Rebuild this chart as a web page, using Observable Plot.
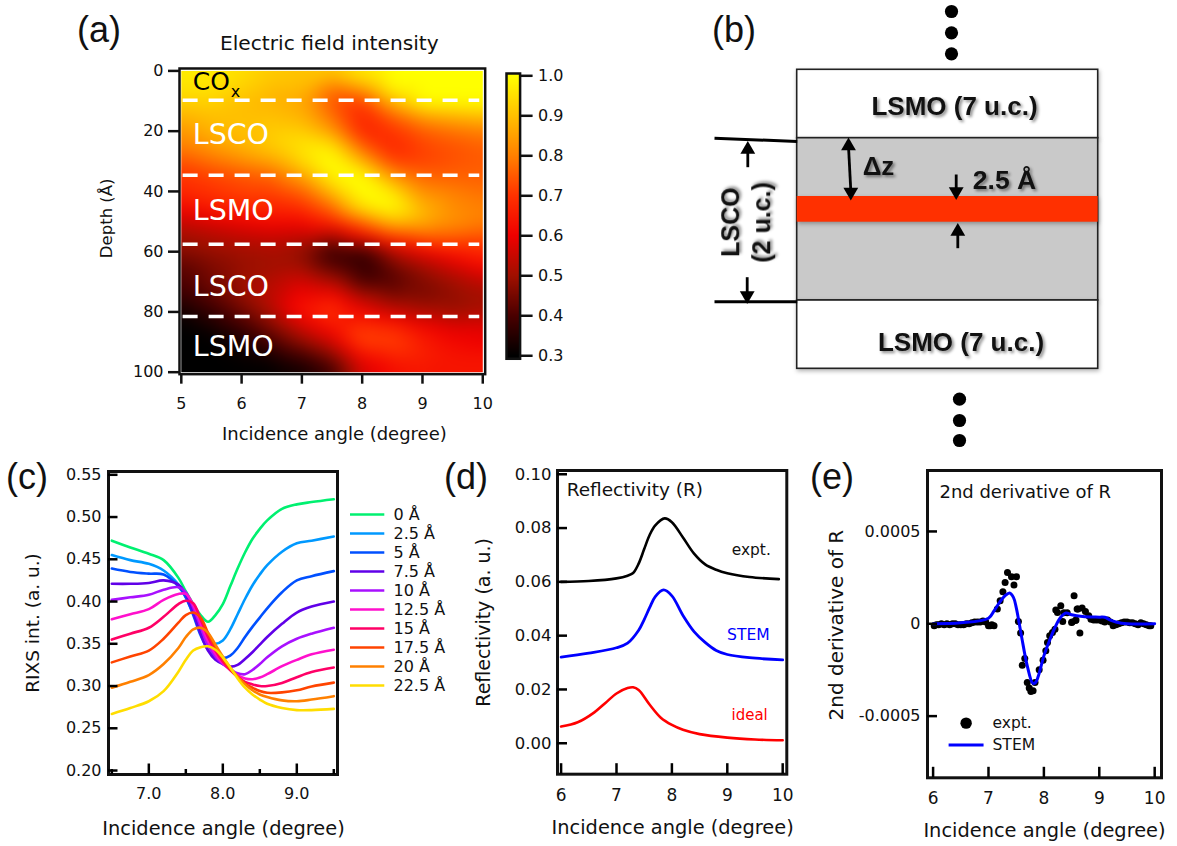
<!DOCTYPE html>
<html><head><meta charset="utf-8">
<script src="https://cdn.jsdelivr.net/npm/d3@7"></script>
<script src="https://cdn.jsdelivr.net/npm/@observablehq/plot@0.6"></script>
<style>
html,body{margin:0;padding:0;background:#fff;overflow:hidden}
#page{position:relative;width:1177px;height:846px;overflow:hidden;background:#fff;font-family:"DejaVu Sans",sans-serif}
.letter{position:absolute;font-family:"Liberation Sans",sans-serif;font-size:36px;line-height:40px;color:#111}
svg{position:absolute;overflow:visible}
.schem g[aria-label="text"] text{filter:drop-shadow(2px 2px 1.5px rgba(0,0,0,.45))}
.schem g[aria-label="rect"] rect{filter:drop-shadow(1px 2px 2px rgba(0,0,0,.3))}
</style></head><body><div id="page"></div>
<script>
// ---------- (a) electric field intensity ----------
const fieldAngles=[5,5.5,6,6.5,7,7.5,8,8.5,9,9.5,10];
const fieldDepths=[0,5,10,15,20,25,30,35,40,45,50,55,60,65,70,75,80,85,90,95,100];
const fieldRows=[
[.97,.97,.95,.92,.90,.92,.98,1,1,1,1],
[.96,.96,.93,.90,.90,.80,.88,1,1,1,1],
[.93,.93,.90,.88,.86,.74,.72,.90,1,1,1],
[.88,.90,.90,.90,.88,.78,.68,.76,.85,.88,.90],
[.83,.88,.90,.92,.92,.84,.68,.70,.75,.78,.80],
[.80,.84,.88,.92,.96,.96,.76,.68,.72,.74,.76],
[.74,.78,.82,.86,.94,1,.88,.72,.72,.74,.75],
[.70,.72,.74,.76,.85,.98,1,.84,.77,.76,.76],
[.68,.70,.72,.72,.76,.90,1,.96,.82,.80,.78],
[.62,.66,.68,.68,.70,.78,.96,1,.88,.82,.80],
[.55,.58,.60,.62,.62,.68,.78,.90,.88,.83,.80],
[.50,.52,.54,.55,.54,.50,.62,.72,.76,.76,.74],
[.47,.49,.50,.51,.48,.37,.37,.52,.60,.65,.68],
[.42,.46,.49,.50,.50,.42,.37,.44,.50,.56,.62],
[.40,.45,.50,.53,.57,.52,.40,.41,.46,.50,.54],
[.37,.42,.48,.54,.62,.64,.52,.46,.46,.48,.50],
[.32,.37,.44,.52,.64,.70,.62,.56,.52,.50,.52],
[.30,.33,.38,.46,.56,.64,.70,.68,.62,.58,.58],
[.30,.30,.34,.40,.48,.56,.72,.72,.66,.62,.60],
[.30,.30,.31,.33,.38,.46,.62,.66,.66,.64,.64],
[.30,.30,.30,.30,.32,.38,.56,.62,.64,.64,.64]];
const interfaceDepths=[9.7,34.6,57.5,81.5];
const layerLabels=["LSCO","LSMO","LSCO","LSMO"];
const layerLabelDepths=[21.1,46.6,71.8,91.6];
const colorStops=[.3,.4,.5,.6,.7,.8,.9,1];
const colorHex=["#000000","#4a0000","#a01000","#f00000","#ff3200","#ff8000","#ffc000","#ffff00"];
const fieldColor={type:"linear",domain:colorStops,range:colorHex,clamp:true};

// ---------- (c) RIXS ----------
const rixsAngles=[6.5,6.75,7,7.2,7.4,7.5,7.6,7.7,7.8,7.9,8,8.1,8.2,8.3,8.4,8.5,8.6,8.8,9,9.2,9.5];
const rixs0=[.472,.464,.4565,.449,.428,.412,.397,.384,.376,.384,.397,.418,.439,.458,.474,.486,.496,.5097,.515,.5177,.521];
const rixs25=[.455,.449,.4446,.4367,.42,.405,.386,.366,.352,.350,.354,.367,.385,.403,.419,.432,.443,.459,.469,.472,.477];
const rixs50=[.439,.435,.433,.432,.418,.405,.384,.360,.343,.335,.333,.336,.345,.358,.370,.381,.392,.411,.425,.430,.436];
const rixs75=[.421,.421,.422,.425,.420,.408,.387,.362,.342,.331,.326,.323,.325,.332,.340,.349,.358,.3736,.387,.394,.400];
const rixs100=[.402,.405,.408,.414,.417,.411,.393,.370,.348,.335,.326,.320,.315,.314,.319,.326,.334,.347,.356,.362,.369];
const rixs125=[.379,.385,.391,.402,.409,.409,.396,.374,.353,.338,.327,.319,.313,.309,.308,.310,.314,.3235,.331,.3375,.343];
const rixs150=[.355,.362,.369,.382,.397,.401,.398,.379,.358,.342,.329,.319,.311,.305,.302,.300,.300,.3037,.3105,.3166,.322];
const rixs175=[.328,.335,.342,.356,.375,.384,.387,.381,.363,.346,.332,.320,.311,.303,.298,.294,.292,.2925,.295,.2995,.304];
const rixs200=[.298,.305,.313,.326,.345,.358,.367,.369,.363,.349,.335,.322,.311,.302,.295,.290,.287,.283,.282,.284,.288];
const rixs225=[.267,.274,.282,.294,.317,.331,.342,.346,.347,.343,.334,.322,.309,.298,.290,.284,.279,.274,.2715,.2715,.273];
const rixsSeries=[rixs0,rixs25,rixs50,rixs75,rixs100,rixs125,rixs150,rixs175,rixs200,rixs225];
const depthLabels=["0 Å","2.5 Å","5 Å","7.5 Å","10 Å","12.5 Å","15 Å","17.5 Å","20 Å","22.5 Å"];
const depthColors=["#00f070","#0099ff","#0050ff","#6000e8","#a810ff","#ff10cc","#ff0066","#ff4400","#ff8000","#ffdd00"];

// ---------- (d) reflectivity ----------
const exptAngle=[6,6.5,7,7.2,7.3,7.4,7.5,7.6,7.7,7.87,8,8.2,8.4,8.6,8.8,9,9.4,9.93];
const exptR=[.0600,.0603,.0613,.0623,.0633,.0668,.0722,.0775,.081,.0836,.0822,.0765,.0705,.0665,.0645,.0632,.0618,.0610];
const stemAngle=[6,6.5,7,7.2,7.4,7.5,7.6,7.7,7.85,8,8.2,8.4,8.6,8.8,9,9.4,10];
const stemR=[.032,.0335,.0355,.0372,.042,.046,.0505,.0545,.057,.0548,.0475,.0415,.0375,.0345,.033,.0318,.031];
const idealAngle=[6,6.3,6.6,6.8,7,7.2,7.3,7.4,7.6,7.8,8,8.2,8.5,9,9.5,10];
const idealR=[.0062,.0078,.0115,.015,.0185,.0205,.0208,.0198,.0143,.0095,.0068,.005,.0034,.0021,.0014,.0011];

// ---------- (e) second derivative ----------
const d2Angle=[6.02,6.06,6.1,6.15,6.2,6.25,6.3,6.35,6.4,6.45,6.5,6.55,6.6,6.65,6.7,6.75,6.8,6.85,6.9,6.95,7,7.03,7.06,7.1,7.16,7.21,7.26,7.30,7.343,7.415,7.46,7.505,7.54,7.58,7.61,7.655,7.70,7.735,7.765,7.805,7.84,7.915,7.985,8.035,8.065,8.105,8.155,8.2,8.215,8.245,8.305,8.34,8.36,8.42,8.5,8.51,8.545,8.57,8.58,8.6,8.615,8.65,8.69,8.75,8.81,8.85,8.9,8.95,9,9.05,9.1,9.15,9.2,9.25,9.3,9.35,9.4,9.45,9.5,9.55,9.6,9.65,9.7,9.75,9.8,9.85,9.9,9.93];
const d2Expt=[-.00001,-.000005,-.000005,0,-.000005,0,-.000005,0,0,-.000005,-.000005,-.000005,0,0,.000005,.00001,.00001,.00001,.000015,.00001,-.00001,-.00001,-.000005,-.00001,.00008,.000125,.000173,.000224,.000278,.000255,.00021,.000255,.000012,-.00005,-.000224,-.000188,-.000318,-.000348,-.000367,-.000363,-.000318,-.000249,-.000197,-.000146,-.000101,-.000065,-.000047,-.00003,.000074,.000061,.000098,.000013,.00006,.00006,.000007,.00001,.000152,.000018,.00002,.00008,.00008,-.00005,.000085,.000067,.000043,.000025,.00002,.00002,.00002,.000015,.00001,.00002,.00001,-.00001,-.000005,0,.000005,.00001,.00001,.000005,.000005,0,-.000005,.000005,0,-.000005,-.00001,-.00001];
const d2StemAngle=[6,6.5,7,7.1,7.2,7.3,7.38,7.45,7.5,7.6,7.7,7.8,7.85,7.9,8,8.1,8.2,8.3,8.4,8.5,8.7,9,9.1,9.2,9.3,9.5,10];
const d2Stem=[0,.000005,.00003,.00007,.000116,.000152,.000167,.000143,.000089,-.000074,-.000228,-.000322,-.000318,-.000283,-.000174,-.000092,-.00002,.000034,.000058,.000049,.00004,.000036,.000035,.00002,.00001,0,0];

// ---------- (b) schematic ----------
const stackLeft=796.7, stackRight=1097.7;
const stackLayers=[
 {name:"LSMO top",top:69.3,bottom:137.7,fill:"#fff"},
 {name:"LSCO",top:137.7,bottom:300,fill:"#c9c9c9"},
 {name:"LSMO bottom",top:300,bottom:368.3,fill:"#fff"}];
const deltaLayer={top:196,bottom:221.7};
const topDots=[{x:951,y:11},{x:951,y:32.3},{x:951,y:53.3}];
const bottomDots=[{x:959,y:398.7},{x:959,y:420},{x:959,y:440}];
const leftLines=[{x1:714,y1:137.7,x2:796.7,y2:141},{x1:714,y1:301.3,x2:796.7,y2:301.3}];
const arrowStems=[
 {x1:747.3,y1:166.7,x2:747.3,y2:150},{x1:746.7,y1:276.7,x2:746.7,y2:294},
 {x1:848,y1:146,x2:850.3,y2:190},{x1:955.7,y1:174,x2:955.7,y2:190},{x1:957.3,y1:247.7,x2:957.3,y2:232}];
const arrowHeads=[
 {x:747.3,y:149,rot:0},{x:746.7,y:295,rot:180},{x:848,y:145.5,rot:0},{x:850.3,y:191.5,rot:180},
 {x:955.7,y:191,rot:180},{x:957.3,y:231,rot:0}];
const schemLabels=[
 {t:"LSMO (7 u.c.)",x:954,y:106,size:26},
 {t:"LSMO (7 u.c.)",x:960.5,y:341.7,size:26},
 {t:"Δz",x:878,y:166,size:26},
 {t:"2.5 Å",x:1004,y:180,size:26.5}];
const schemSideLabels=[{t:"LSCO",x:730.7,y:221.7},{t:"(2 u.c.)",x:761.7,y:222}];

const page=document.getElementById("page");
const FF='"DejaVu Sans",sans-serif';
function panel(o){
  const s=Plot.plot({
    width:o.R-o.L+o.mL+o.mR,height:o.B-o.T+o.mT+o.mB,
    marginLeft:o.mL,marginRight:o.mR,marginTop:o.mT,marginBottom:o.mB,
    x:{domain:o.x,axis:null},y:{domain:o.y,axis:null},color:o.color,
    style:{fontFamily:FF,background:"transparent",overflow:"visible",color:"#111"},
    marks:o.marks});
  s.style.left=(o.L-o.mL)+"px";s.style.top=(o.T-o.mT)+"px";
  page.appendChild(s);return s;
}
function letter(t,x,y){const d=document.createElement("div");d.className="letter";d.textContent=t;d.style.left=x+"px";d.style.top=y+"px";page.appendChild(d);}
const inX=(v,w,h,len)=>Plot.tickX(v,{x:d=>d,insetTop:h-len,stroke:"#000",strokeWidth:w});
const inY=(v,w,wd,len)=>Plot.tickY(v,{y:d=>d,insetRight:wd-len,stroke:"#000",strokeWidth:w});
const title=(t,opt)=>Plot.text([t],{text:d=>d,fill:"#111",...opt});
const vtitle=(t,opt)=>Plot.text([t],{text:d=>d,fill:"#111",frameAnchor:"left",textAnchor:"middle",rotate:-90,...opt});
const plain=d=>String(d);

// panel a
const fieldPoints=fieldRows.flatMap((r,i)=>r.map((v,j)=>({a:fieldAngles[j],d:fieldDepths[i],v})));
panel({L:179.3,R:485,T:68.3,B:374,mL:90,mR:10,mT:40,mB:70,x:[4.97,10.04],y:[100.66,-0.8],color:fieldColor,marks:[
  Plot.raster(fieldPoints,{x:"a",y:"d",fill:"v",x1:5,x2:10,y1:0,y2:100,interpolate:"barycentric",blur:7,pixelSize:1}),
  Plot.ruleY(interfaceDepths,{y:d=>d,x1:5.03,x2:9.95,stroke:"#fff",strokeWidth:3.5,strokeDasharray:"15,11"}),
  Plot.text(layerLabels,{x:()=>5.19,y:(d,i)=>layerLabelDepths[i],text:d=>d,fill:"#fff",fontSize:28.5,textAnchor:"start"}),
  Plot.text(["CO"],{x:()=>5.19,y:()=>3.6,text:d=>d,fill:"#000",fontSize:25,textAnchor:"start"}),
  Plot.text(["x"],{x:()=>5.82,y:()=>7,text:d=>d,fill:"#000",fontSize:16,textAnchor:"start"}),
  Plot.frame({stroke:"#111",strokeWidth:2.5}),
  Plot.axisX({ticks:[5,6,7,8,9,10],tickFormat:plain,tickSize:10,tickPadding:13,fontSize:16,label:null,strokeWidth:2.5,stroke:"#111",fill:"#111"}),
  Plot.axisY({ticks:[0,20,40,60,80,100],tickFormat:plain,tickSize:11,tickPadding:5,fontSize:16,label:null,strokeWidth:2.5,stroke:"#111",fill:"#111"}),
  title("Incidence angle (degree)",{frameAnchor:"bottom",dy:66,dx:2,fontSize:18}),
  title("Electric field intensity",{frameAnchor:"top",dy:-33,dx:-3,fontSize:20.2}),
  vtitle("Depth (Å)",{dx:-72.6,dy:-3,fontSize:16.5})
]});

// colour bar
panel({L:505.7,R:519.3,T:72.7,B:358,mL:2,mR:50,mT:10,mB:10,x:[0,1],y:[.2925,1.00575],color:fieldColor,marks:[
  Plot.raster({x1:0,x2:1,y1:.2925,y2:1.00575,fill:(x,y)=>y,pixelSize:1}),
  Plot.frame({stroke:"#111",strokeWidth:2.5}),
  Plot.axisY({anchor:"right",ticks:[.3,.4,.5,.6,.7,.8,.9,1],tickFormat:d3.format(".1f"),tickSize:12,tickPadding:6,fontSize:16,label:null,strokeWidth:2.5,stroke:"#111",fill:"#111"})
]});

// panel c
const rixsRows=rixsSeries.flatMap((s,i)=>s.map((v,j)=>({a:rixsAngles[j],v,depth:depthLabels[i]})));
panel({L:108,R:337,T:471,B:774,mL:108,mR:5,mT:5,mB:72,x:[6.455,9.55],y:[.1953,.5539],
 color:{type:"ordinal",domain:depthLabels,range:depthColors},marks:[
  Plot.line(rixsRows,{x:"a",y:"v",stroke:"depth",z:"depth",strokeWidth:2.6,curve:"catmull-rom"}),
  Plot.frame({stroke:"#111",strokeWidth:3}),
  inX([7,8,9],2.5,303,10.5),inX([6.5,7.5,8.5,9.5],2.5,303,5),
  inY([.2,.25,.3,.35,.4,.45,.5,.55],2.5,229,9.5),
  Plot.axisX({ticks:[7,8,9],tickFormat:d3.format(".1f"),tickSize:0,tickPadding:13,fontSize:16,label:null,fill:"#111"}),
  Plot.axisY({ticks:[.2,.25,.3,.35,.4,.45,.5,.55],tickFormat:d3.format(".2f"),tickSize:0,tickPadding:7,fontSize:16,label:null,fill:"#111"}),
  title("Incidence angle (degree)",{frameAnchor:"bottom",dy:60.5,dx:0.5,fontSize:19.4}),
  vtitle("RIXS int. (a. u.)",{dx:-75,fontSize:18.5})
]});

// legend c
{
 const s=Plot.plot({width:115,height:222,margin:0,
  x:{type:"linear",domain:[0,115],range:[0,115],axis:null},
  y:{type:"point",domain:depthLabels,range:[10,208],axis:null},
  color:{type:"ordinal",domain:depthLabels,range:depthColors},
  style:{fontFamily:FF,background:"transparent",overflow:"visible"},
  marks:[
   Plot.ruleY(depthLabels,{y:d=>d,x1:()=>5,x2:()=>39.3,stroke:d=>d,strokeWidth:2.6}),
   Plot.text(depthLabels,{y:d=>d,x:()=>48,text:d=>d,fontSize:16,textAnchor:"start",fill:"#111"})]});
 s.style.left="345px";s.style.top="490px";page.appendChild(s);
}

// panel d
const toRows=(xs,ys,name)=>xs.map((a,i)=>({a,v:ys[i],name}));
panel({L:556.7,R:786,T:470.3,B:774,mL:85,mR:12,mT:5,mB:72,x:[5.935,10.074],y:[-.0115,.1014],marks:[
  Plot.line(toRows(exptAngle,exptR),{x:"a",y:"v",stroke:"#000",strokeWidth:2.6,curve:"catmull-rom"}),
  Plot.line(toRows(stemAngle,stemR),{x:"a",y:"v",stroke:"#0000ff",strokeWidth:2.8,curve:"catmull-rom"}),
  Plot.line(toRows(idealAngle,idealR),{x:"a",y:"v",stroke:"#ff0000",strokeWidth:2.6,curve:"catmull-rom"}),
  Plot.frame({stroke:"#111",strokeWidth:3}),
  inX([6,7,8,9,10],2.5,303.7,10.5),
  inY([0,.02,.04,.06,.08,.1],2.5,229.3,10),
  Plot.axisX({ticks:[6,7,8,9,10],tickFormat:plain,tickSize:0,tickPadding:15,fontSize:17,label:null,fill:"#111"}),
  Plot.axisY({ticks:[0,.02,.04,.06,.08,.1],tickFormat:d3.format(".2f"),tickSize:0,tickPadding:6,fontSize:16.5,label:null,fill:"#111"}),
  Plot.text(["Reflectivity (R)"],{x:()=>6.10,y:()=>.094,text:d=>d,fontSize:18.5,textAnchor:"start",fill:"#111"}),
  Plot.text(["expt."],{x:()=>9.785,y:()=>.0717,text:d=>d,fontSize:15.4,textAnchor:"end",fill:"#111"}),
  Plot.text(["STEM"],{x:()=>9.767,y:()=>.0401,text:d=>d,fontSize:15.6,textAnchor:"end",fill:"#0000ff"}),
  Plot.text(["ideal"],{x:()=>9.73,y:()=>.0104,text:d=>d,fontSize:15,textAnchor:"end",fill:"#ff0000"}),
  title("Incidence angle (degree)",{frameAnchor:"bottom",dy:59.5,dx:0.5,fontSize:19.4}),
  vtitle("Reflectivity (a. u.)",{dx:-73.7,fontSize:19})
]});

// panel e
panel({L:926.7,R:1160.7,T:469.7,B:777,mL:100,mR:16,mT:5,mB:69,x:[5.899,10.123],y:[-.000834,.00083],marks:[
  Plot.dot(d2Angle.map((a,i)=>({a,v:d2Expt[i]})),{x:"a",y:"v",r:3.5,fill:"#000"}),
  Plot.line(toRows(d2StemAngle,d2Stem),{x:"a",y:"v",stroke:"#0000ff",strokeWidth:3,curve:"catmull-rom"}),
  Plot.dot([1],{x:()=>6.596,y:()=>-.000538,r:5.7,fill:"#000"}),
  Plot.ruleY([-.000657],{y:d=>d,x1:()=>6.289,x2:()=>6.92,stroke:"#0000ff",strokeWidth:3}),
  Plot.text(["expt."],{x:()=>7.072,y:()=>-.000538,text:d=>d,fontSize:15.5,textAnchor:"start",fill:"#111"}),
  Plot.text(["STEM"],{x:()=>7.072,y:()=>-.000657,text:d=>d,fontSize:15.6,textAnchor:"start",fill:"#111"}),
  Plot.text(["2nd derivative of R"],{x:()=>6.115,y:()=>.000715,text:d=>d,fontSize:18,textAnchor:"start",fill:"#111"}),
  Plot.frame({stroke:"#111",strokeWidth:3}),
  inX([6,7,8,9,10],2.5,307.3,10.5),
  inY([-.0005,0,.0005],2.5,234,10),
  Plot.axisX({ticks:[6,7,8,9,10],tickFormat:plain,tickSize:0,tickPadding:14,fontSize:17,label:null,fill:"#111"}),
  Plot.axisY({ticks:[-.0005,0,.0005],tickFormat:d=>d===0?"0":d3.format(".4f")(d).replace("−","-"),tickSize:0,tickPadding:7,fontSize:16,label:null,fill:"#111"}),
  title("Incidence angle (degree)",{frameAnchor:"bottom",dy:59,fontSize:19.4}),
  vtitle("2nd derivative of R",{dx:-90.7,dy:1,fontSize:20})
]});

// panel b
{
 const lb='"Liberation Sans",sans-serif';
 const s=Plot.plot({width:430,height:450,margin:0,
  x:{domain:[690,1120],axis:null},y:{domain:[450,0],axis:null},className:"schem",
  style:{fontFamily:lb,background:"transparent",overflow:"visible"},
  marks:[
   Plot.rect(stackLayers,{x1:()=>stackLeft,x2:()=>stackRight,y1:"top",y2:"bottom",fill:"fill",stroke:"#222",strokeWidth:1.6}),
   Plot.rectY([deltaLayer],{x1:()=>stackLeft,x2:()=>stackRight,y1:"top",y2:"bottom",fill:"#ff3000"}),
   Plot.link(leftLines,{x1:"x1",y1:"y1",x2:"x2",y2:"y2",stroke:"#000",strokeWidth:3}),
   Plot.link(arrowStems,{x1:"x1",y1:"y1",x2:"x2",y2:"y2",stroke:"#000",strokeWidth:2.8}),
   Plot.dot(arrowHeads,{x:"x",y:"y",rotate:"rot",symbol:"triangle",r:5.5,fill:"#000"}),
   Plot.dot(topDots,{x:"x",y:"y",r:6.6,fill:"#000"}),
   Plot.dot(bottomDots,{x:"x",y:"y",r:6.6,fill:"#000"}),
   Plot.text(schemLabels,{x:"x",y:"y",text:"t",fontSize:"size",fontWeight:"bold",fill:"#111"}),
   Plot.text(schemSideLabels,{x:"x",y:"y",text:"t",rotate:-90,fontSize:25,fontWeight:"bold",fill:"#111"})
  ]});
 s.style.left="690px";s.style.top="0px";page.appendChild(s);
}

letter("(a)",77,10);letter("(b)",712,10);letter("(c)",6,457);letter("(d)",444,457);letter("(e)",810,457);
</script></body></html>
